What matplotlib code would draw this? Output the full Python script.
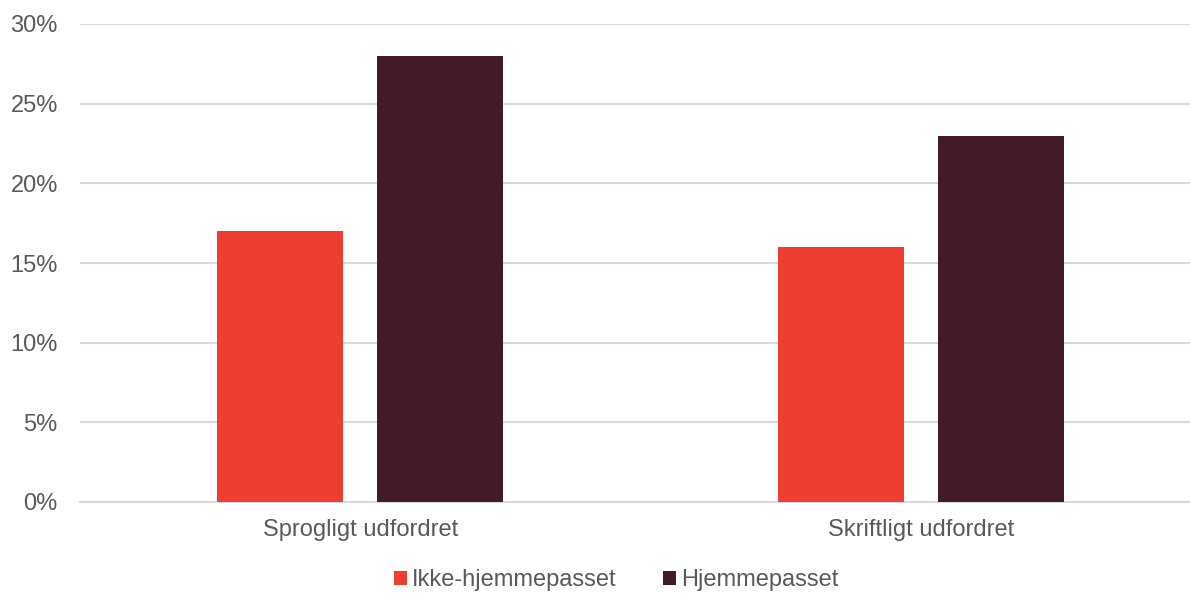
import numpy as np
from matplotlib import pyplot as plt

categories = ["Sprogligt udfordret", "Skriftligt udfordret"]
series_names = ["Ikke-hjemmepasset", "Hjemmepasset"]
ikke_hjemme = [17, 16]
hjemme = [28, 23]
yticks = [0, 5, 10, 15, 20, 25, 30]

RED = "#EE3E2F"
DARK = "#431B26"
GRID = "#D9D9D9"
TEXT = "#595959"

plt.rcParams['font.family'] = ['Liberation Sans', 'DejaVu Sans']

fig = plt.figure(figsize=(11.9, 5.95), dpi=100)
ax = fig.add_axes([80 / 1190, 93 / 595, 1 - 80 / 1190, (502 - 24) / 595])

x = np.arange(len(categories))
width = 0.225
offset = 0.1427
ax.bar(x - offset, ikke_hjemme, width, color=RED, label=series_names[0], zorder=3)
ax.bar(x + offset, hjemme, width, color=DARK, label=series_names[1], zorder=3)

ax.set_xlim(-0.5, 1.5 - 11 / 560.5)
ax.set_ylim(0, 30)
ax.set_yticks(yticks)
ax.set_yticklabels([f"{v}%" for v in yticks])
ax.set_xticks(x)
ax.set_xticklabels(categories)

for spine in ["top", "right", "left"]:
    ax.spines[spine].set_visible(False)
ax.spines["bottom"].set_color(GRID)
ax.spines["bottom"].set_linewidth(1.5)
ax.grid(axis="y", color=GRID, linewidth=1.5, zorder=0)
ax.tick_params(axis="both", length=0, labelsize=17, colors=TEXT)
ax.tick_params(axis="y", pad=16)
ax.tick_params(axis="x", pad=12)

fig.legend(loc="center", bbox_to_anchor=(616 / 1190, 1 - 580 / 595), ncol=2,
           frameon=False, fontsize=17, labelcolor=TEXT, handlelength=0.55,
           handleheight=0.55, handletextpad=0.2, columnspacing=2.0)

fig.savefig("out.png", dpi=100)
